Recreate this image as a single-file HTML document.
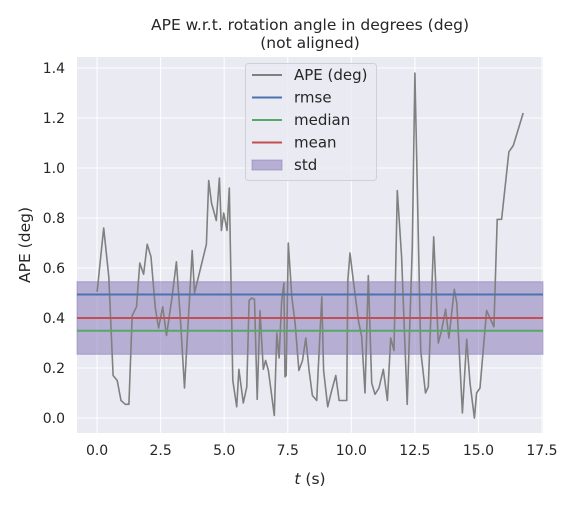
<!DOCTYPE html>
<html><head><meta charset="utf-8"><style>
body{margin:0;background:#fff;}
svg{font-family:"DejaVu Sans","Liberation Sans",sans-serif;}
</style></head><body>
<svg id="chart" width="578" height="505">
<text x="310" y="30" font-size="15.5" text-anchor="middle" fill="#262626">APE w.r.t. rotation angle in degrees (deg)</text>
<text x="310" y="48" font-size="15.5" text-anchor="middle" fill="#262626">(not aligned)</text>
<g id="plot"></g>
<text x="310" y="484" font-size="15.5" text-anchor="middle" fill="#262626"><tspan font-style="italic">t</tspan> (s)</text>
<text transform="translate(30,245) rotate(-90)" font-size="15.5" text-anchor="middle" fill="#262626">APE (deg)</text>
</svg>
<script>
const times=[0,0.26,0.46,0.63,0.79,0.94,1.11,1.25,1.38,1.55,1.68,1.83,1.97,2.12,2.29,2.42,2.58,2.73,2.95,3.12,3.28,3.44,3.74,3.83,4.3,4.39,4.5,4.69,4.81,4.89,4.98,5.11,5.2,5.34,5.49,5.58,5.75,5.89,5.98,6.08,6.19,6.3,6.41,6.54,6.63,6.74,6.97,7.07,7.16,7.26,7.35,7.39,7.44,7.52,7.66,7.79,7.94,8.08,8.21,8.34,8.47,8.64,8.84,8.91,9.07,9.23,9.39,9.52,9.82,9.86,9.95,10.08,10.28,10.41,10.54,10.67,10.8,10.93,11.09,11.26,11.42,11.55,11.68,11.81,11.98,12.2,12.4,12.5,12.73,12.92,13.03,13.24,13.42,13.55,13.71,13.84,14.05,14.15,14.37,14.54,14.67,14.84,14.93,15.06,15.32,15.61,15.74,15.91,16.2,16.37,16.76];
const apeValues=[0.505,0.76,0.565,0.17,0.15,0.07,0.055,0.055,0.41,0.445,0.62,0.575,0.695,0.645,0.44,0.36,0.445,0.33,0.485,0.625,0.39,0.12,0.67,0.5,0.695,0.95,0.86,0.79,0.96,0.75,0.82,0.75,0.92,0.15,0.045,0.195,0.06,0.125,0.47,0.48,0.475,0.075,0.43,0.195,0.23,0.19,0.01,0.34,0.24,0.47,0.54,0.165,0.17,0.7,0.485,0.38,0.19,0.23,0.32,0.19,0.09,0.07,0.485,0.19,0.045,0.11,0.17,0.07,0.07,0.55,0.66,0.55,0.39,0.325,0.1,0.57,0.14,0.095,0.12,0.195,0.07,0.32,0.27,0.91,0.645,0.055,0.685,1.38,0.27,0.1,0.125,0.725,0.3,0.35,0.435,0.32,0.515,0.46,0.02,0.315,0.14,0.0,0.1,0.12,0.43,0.365,0.795,0.795,1.065,1.09,1.22];
const rmseValue=[0.494];
const meanValue=[0.400];
const medianValue=[0.349];
const stdValue=[0.145];
const xTicks=[0,2.5,5,7.5,10,12.5,15,17.5];
const xTickLabels=["0.0","2.5","5.0","7.5","10.0","12.5","15.0","17.5"];
const yTicks=[0,0.2,0.4,0.6,0.8,1.0,1.2,1.4];
const yTickLabels=["0.0","0.2","0.4","0.6","0.8","1.0","1.2","1.4"];

const L=77,R=543,T=57,B=433,xmin=-0.79,xmax=17.54,ymin=-0.06,ymax=1.444;
const X=t=>L+(t-xmin)/(xmax-xmin)*(R-L);
const Y=v=>B-(v-ymin)/(ymax-ymin)*(B-T);
const NS="http://www.w3.org/2000/svg";
const g=document.getElementById('plot');
function mk(tag,a,parent){const e=document.createElementNS(NS,tag);for(const k in a)e.setAttribute(k,a[k]);(parent||g).appendChild(e);return e;}

let bg=mk('rect',{x:L,y:T,width:R-L,height:B-T,fill:'#eaeaf2'});


xTicks.forEach((t,i)=>{
  let gl=mk('line',{x1:X(t),x2:X(t),y1:T,y2:B,stroke:'#fff','stroke-width':1});
  
  
  let tx=mk('text',{x:X(t),y:B+22,'font-size':14,'text-anchor':'middle',fill:'#262626'});
  tx.textContent=xTickLabels[i];
  
  
});
yTicks.forEach((v,i)=>{
  let gl=mk('line',{x1:L,x2:R,y1:Y(v),y2:Y(v),stroke:'#fff','stroke-width':1});
  
  
  let tx=mk('text',{x:L-12,y:Y(v)+5,'font-size':14,'text-anchor':'end',fill:'#262626'});
  tx.textContent=yTickLabels[i];
  
  
});
let band=mk('rect',{x:L,y:Y(meanValue[0]+stdValue[0]),width:R-L,height:Y(meanValue[0]-stdValue[0])-Y(meanValue[0]+stdValue[0]),fill:'#8172b3','fill-opacity':0.5,stroke:'#8172b3','stroke-opacity':0.5});


let pts=times.map((t,i)=>X(t).toFixed(1)+','+Y(apeValues[i]).toFixed(1)).join(' ');
let line=mk('polyline',{points:pts,fill:'none',stroke:'#808080','stroke-width':1.6,'stroke-linejoin':'round'});


[[rmseValue[0],'#4c72b0','rmse-line'],[medianValue[0],'#55a868','median-line'],[meanValue[0],'#c44e52','mean-line']].forEach(([v,c,n])=>{
  let l=mk('line',{x1:L,x2:R,y1:Y(v),y2:Y(v),stroke:c,'stroke-width':2});
  
  
});
let lg=mk('g',{});


mk('rect',{x:245.5,y:63.5,width:131,height:117,rx:3,fill:'#eaeaf2','fill-opacity':0.8,stroke:'#d0d0d8'},lg);
const entries=[['APE (deg)','#808080'],['rmse','#4c72b0'],['median','#55a868'],['mean','#c44e52'],['std',null]];
entries.forEach(([lab,c],i)=>{
  const y=75+i*22.5;
  let e=mk('g',{},lg);
  
  
  if(c) mk('line',{x1:252,x2:282,y1:y,y2:y,stroke:c,'stroke-width':2},e);
  else mk('rect',{x:252,y:y-5,width:30,height:10,fill:'#8172b3','fill-opacity':0.5,stroke:'#8172b3','stroke-opacity':0.5},e);
  let t=mk('text',{x:294,y:y+5,'font-size':15,fill:'#262626'},e);
  t.textContent=lab;
});
</script>
</body></html>
